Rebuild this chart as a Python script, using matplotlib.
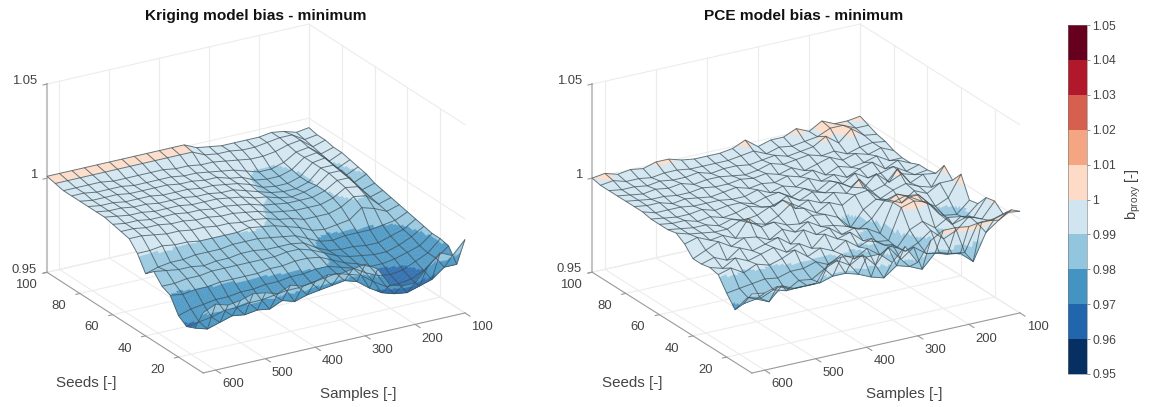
# Kriging / PCE minimum model bias surfaces with a shared stepped colourbar

import numpy as np
import matplotlib
matplotlib.use('Agg')
import matplotlib.pyplot as plt
from matplotlib.cm import ScalarMappable
from matplotlib.colors import BoundaryNorm, ListedColormap
from mpl_toolkits.mplot3d import proj3d

plt.rcParams['font.family'] = ['Liberation Sans', 'DejaVu Sans']
plt.rcParams['mathtext.fontset'] = 'custom'
plt.rcParams['mathtext.rm'] = 'Liberation Sans'

# ── Data ──────────────────────────────────────────────────────────────────────
samples = [625, 600, 575, 550, 525, 500, 475, 450, 425, 400, 375,
           350, 325, 300, 275, 250, 225, 200, 175, 150, 125, 100]
seeds = [100, 95, 90, 85, 80, 75, 70, 65, 60, 55,
         50, 45, 40, 35, 30, 25, 20, 15, 10, 5]

# bias x 1000, one row per seed count, one column per sample count
kriging_bias = [
    [1001, 1001, 1001, 1001, 1001, 1001, 1001, 1001, 1001, 1001, 1001, 1001, 998, 997, 996, 996, 996, 996, 997, 996, 994, 995],
    [1000, 1000, 1000, 1000, 1000, 1000, 1000, 1000, 1000, 1000, 1000, 1000, 997, 996, 996, 995, 995, 996, 997, 997, 993, 994],
    [999, 999, 999, 999, 998, 998, 998, 998, 998, 997, 997, 996, 996, 995, 994, 993, 993, 994, 996, 997, 992, 994],
    [999, 999, 998, 998, 998, 997, 997, 997, 997, 996, 996, 995, 994, 993, 991, 989, 989, 991, 995, 996, 991, 993],
    [999, 998, 998, 998, 997, 997, 997, 997, 996, 996, 995, 995, 993, 992, 989, 988, 988, 990, 995, 996, 990, 993],
    [999, 998, 998, 997, 997, 997, 996, 996, 996, 995, 995, 994, 993, 991, 988, 987, 987, 989, 995, 996, 989, 992],
    [999, 998, 998, 997, 997, 996, 996, 996, 995, 995, 994, 994, 992, 990, 988, 987, 987, 989, 995, 995, 988, 991],
    [999, 998, 997, 997, 996, 996, 996, 995, 995, 995, 994, 993, 991, 990, 988, 987, 988, 990, 995, 995, 987, 990],
    [998, 997, 997, 996, 996, 996, 995, 995, 994, 994, 993, 992, 990, 989, 988, 988, 988, 990, 994, 994, 986, 988],
    [997, 997, 996, 996, 995, 995, 994, 994, 993, 993, 992, 991, 989, 988, 987, 987, 987, 989, 993, 992, 985, 987],
    [996, 996, 995, 994, 994, 993, 993, 992, 992, 991, 991, 990, 988, 987, 985, 985, 985, 987, 991, 990, 984, 986],
    [991, 991, 992, 991, 991, 990, 990, 990, 990, 991, 990, 989, 987, 985, 982, 981, 982, 983, 988, 986, 983, 985],
    [983, 985, 986, 986, 987, 987, 987, 988, 988, 988, 987, 986, 985, 982, 979, 978, 979, 979, 979, 980, 981, 984],
    [987, 986, 985, 985, 984, 985, 985, 986, 986, 985, 985, 985, 984, 980, 977, 976, 976, 975, 975, 977, 979, 983],
    [982, 982, 983, 983, 984, 984, 984, 984, 984, 984, 985, 985, 983, 980, 977, 975, 974, 973, 973, 975, 978, 982],
    [980, 979, 980, 980, 981, 981, 981, 981, 982, 982, 983, 983, 982, 979, 976, 974, 971, 971, 972, 974, 976, 981],
    [972, 974, 975, 976, 976, 977, 977, 978, 978, 979, 979, 980, 980, 978, 976, 972, 969, 968, 969, 972, 975, 981],
    [969, 970, 971, 973, 973, 974, 974, 975, 976, 976, 977, 978, 979, 977, 975, 970, 966, 966, 967, 970, 975, 980],
    [971, 969, 971, 973, 972, 973, 972, 975, 973, 975, 976, 977, 978, 976, 971, 967, 965, 964, 966, 968, 973, 973],
    [982, 985, 983, 984, 986, 985, 983, 986, 984, 985, 987, 986, 987, 988, 984, 974, 972, 972, 979, 985, 982, 989],
]

pce_bias = [
    [1000, 1001, 999, 1000, 999, 1001, 1001, 999, 998, 998, 998, 999, 1002, 997, 999, 999, 1002, 999, 1003, 1000, 1000, 1001],
    [999, 1000, 998, 998, 997, 998, 998, 997, 997, 997, 997, 998, 999, 996, 998, 997, 998, 999, 1002, 1002, 999, 999],
    [999, 998, 998, 997, 998, 997, 997, 998, 996, 997, 997, 996, 997, 998, 996, 997, 998, 1002, 997, 1003, 998, 997],
    [999, 998, 997, 998, 997, 998, 996, 997, 997, 996, 995, 996, 998, 996, 997, 998, 996, 997, 994, 996, 997, 996],
    [999, 998, 997, 997, 996, 996, 997, 996, 996, 997, 996, 997, 995, 997, 994, 996, 998, 995, 997, 995, 997, 994],
    [999, 998, 998, 996, 997, 996, 995, 996, 997, 995, 996, 995, 997, 995, 997, 993, 996, 994, 995, 997, 993, 993],
    [999, 997, 997, 997, 996, 996, 996, 995, 995, 997, 994, 996, 994, 997, 994, 996, 993, 996, 998, 993, 996, 993],
    [998, 997, 996, 996, 997, 995, 996, 996, 994, 996, 997, 993, 996, 993, 997, 994, 998, 994, 995, 997, 993, 995],
    [998, 997, 997, 995, 996, 994, 995, 997, 995, 994, 998, 994, 997, 995, 999, 995, 993, 999, 993, 996, 994, 995],
    [998, 997, 996, 996, 994, 996, 994, 995, 998, 1000, 994, 997, 994, 998, 996, 1002, 994, 996, 1003, 994, 997, 996],
    [999, 997, 996, 995, 995, 998, 995, 993, 996, 1001, 997, 993, 997, 994, 998, 999, 993, 996, 998, 995, 993, 1003],
    [996, 998, 995, 996, 993, 1002, 996, 997, 994, 993, 996, 995, 992, 985, 993, 997, 995, 992, 997, 994, 998, 998],
    [991, 994, 997, 993, 996, 995, 992, 996, 993, 997, 993, 992, 990, 987, 991, 999, 1001, 998, 994, 990, 993, 1004],
    [991, 993, 990, 995, 992, 994, 996, 991, 997, 993, 995, 990, 992, 990, 986, 1001, 1003, 1002, 995, 988, 987, 993],
    [992, 990, 994, 991, 993, 995, 991, 994, 990, 996, 992, 994, 988, 986, 985, 1001, 1003, 1001, 993, 986, 988, 994],
    [991, 993, 989, 992, 990, 992, 995, 990, 993, 990, 994, 989, 992, 987, 984, 992, 995, 990, 994, 993, 991, 1000],
    [984, 985, 986, 987, 986, 988, 988, 990, 987, 991, 987, 991, 986, 990, 985, 988, 993, 987, 990, 996, 993, 1001],
    [978, 983, 981, 984, 982, 986, 985, 989, 992, 988, 992, 985, 993, 985, 990, 985, 984, 982, 981, 995, 995, 997],
    [984, 985, 982, 989, 986, 986, 986, 988, 988, 986, 983, 981, 986, 984, 981, 988, 986, 985, 979, 993, 998, 1002],
    [992, 991, 993, 990, 990, 990, 999, 1001, 1000, 998, 998, 992, 999, 989, 999, 1003, 1003, 1002, 1003, 1003, 1005, 1004],
]

sample_ticks = [100, 200, 300, 400, 500, 600]
seed_ticks = [20, 40, 60, 80, 100]
z_ticks = [0.95, 1.0, 1.05]
z_ticklabels = ['0.95', '1', '1.05']
bar_ticks = [0.95, 0.96, 0.97, 0.98, 0.99, 1.0, 1.01, 1.02, 1.03, 1.04, 1.05]
bar_ticklabels = ['0.95', '0.96', '0.97', '0.98', '0.99', '1', '1.01', '1.02', '1.03', '1.04', '1.05']

# ── Stepped colour scale ──────────────────────────────────────────────────────
cmap = ListedColormap(['#053061', '#2166ac', '#4393c3', '#92c5de', '#d1e5f0',
                       '#fddbc7', '#f4a582', '#d6604d', '#b2182b', '#67001f'])
norm = BoundaryNorm(bar_ticks, cmap.N)

W, H = 1153, 407
XLIM = (625, 100)   # reversed, large sample counts sit at the front
YLIM = (5, 100)
ZLIM = (0.95, 1.05)
TICK_GREY = '#444444'
AXIS_GREY = '#999999'
GRID_GREY = '#ececec'


def refine(a, k):
    # linear subdivision of each mesh cell, only used to shade the colour bands
    a = np.asarray(a, dtype=float)
    rows = np.linspace(0, a.shape[0] - 1, (a.shape[0] - 1) * k + 1)
    cols = np.linspace(0, a.shape[1] - 1, (a.shape[1] - 1) * k + 1)
    by_col = np.array([np.interp(rows, np.arange(a.shape[0]), a[:, j]) for j in range(a.shape[1])]).T
    return np.array([np.interp(cols, np.arange(a.shape[1]), r) for r in by_col])


def draw_box(ax):
    x0, x1 = XLIM
    y0, y1 = YLIM
    z0, z1 = ZLIM
    # walls and floor grid
    for x in sample_ticks:
        ax.plot([x, x], [y1, y1], [z0, z1], color=GRID_GREY, lw=0.8, zorder=1)
        ax.plot([x, x], [y0, y1], [z0, z0], color=GRID_GREY, lw=0.8, zorder=1)
    for y in seed_ticks:
        ax.plot([x1, x1], [y, y], [z0, z1], color=GRID_GREY, lw=0.8, zorder=1)
        ax.plot([x0, x1], [y, y], [z0, z0], color=GRID_GREY, lw=0.8, zorder=1)
    for z in z_ticks:
        ax.plot([x0, x1], [y1, y1], [z, z], color=GRID_GREY, lw=0.8, zorder=1)
        ax.plot([x1, x1], [y0, y1], [z, z], color=GRID_GREY, lw=0.8, zorder=1)
    ax.plot([x1, x1], [y1, y1], [z0, z1], color=GRID_GREY, lw=0.8, zorder=1)
    # axis rulers
    ax.plot([x0, x0], [y1, y1], [z0, z1], color='#c4c4c4', lw=1.5, zorder=2)
    ax.plot([x0, x0], [y0, y1], [z0, z0], color=AXIS_GREY, lw=0.8, zorder=2)
    ax.plot([x0, x1], [y0, y0], [z0, z0], color=AXIS_GREY, lw=0.8, zorder=2)
    # ticks
    for y in seed_ticks:
        ax.plot([x0, x0 + 8], [y, y], [z0, z0], color=AXIS_GREY, lw=0.8, zorder=2)
    for x in sample_ticks:
        ax.plot([x, x], [y0, y0 - 3], [z0, z0], color=AXIS_GREY, lw=0.8, zorder=2)
    for z in z_ticks:
        ax.plot([x0, x0 + 8], [y1, y1], [z, z], color=AXIS_GREY, lw=0.8, zorder=2)


def tick_label(ax, x, y, z, label, ha='center'):
    # place the label at the projected point, so it stays a plain 2D text
    px, py, _ = proj3d.proj_transform(x, y, z, ax.get_proj())
    ax.text2D(px, py, label, transform=ax.transData, ha=ha, va='center',
              fontsize=9.4, color=TICK_GREY)


def draw_panel(bias, center_x, size, box, elev, azim, title, title_x, seeds_x, samples_x):
    left = center_x - 0.095 / 0.185 * size
    bottom = 208.5 - 0.095 / 0.185 * size
    ax = fig.add_axes([left / W, bottom / H, size / W, size / H],
                      projection='3d', computed_zorder=False)
    ax.set_proj_type('ortho')
    ax.view_init(elev=elev, azim=azim)
    ax.set_box_aspect(box)
    ax.set_axis_off()
    ax.patch.set_alpha(0)

    draw_box(ax)

    Z = np.array(bias) / 1000
    X, Y = np.meshgrid(samples, seeds)
    Xf, Yf, Zf = refine(X, 6), refine(Y, 6), refine(Z, 6)

    # colour each small cell from its mean height, mixed a little with white
    Zm = (Zf[:-1, :-1] + Zf[1:, :-1] + Zf[:-1, 1:] + Zf[1:, 1:]) / 4
    colours = np.ones(Zf.shape + (4,))
    colours[:-1, :-1] = cmap(norm(np.clip(Zm, 0.9501, 1.0499)))
    colours[..., :3] = colours[..., :3] * 0.92 + 0.08
    ax.plot_surface(Xf, Yf, Zf, facecolors=colours, rstride=1, cstride=1, shade=False,
                    edgecolor=colours[:-1, :-1].reshape(-1, 4), linewidth=0.25,
                    antialiased=True, zorder=3)
    ax.plot_wireframe(X, Y, Z, rstride=1, cstride=1, color='#3d5058', linewidth=0.7,
                      alpha=0.75, zorder=4)

    ax.set_xlim(*XLIM)
    ax.set_ylim(*YLIM)
    ax.set_zlim(*ZLIM)

    x0, y0, y1, z0 = XLIM[0], YLIM[0], YLIM[1], ZLIM[0]
    for y in seed_ticks:
        tick_label(ax, x0 + 42, y, z0 - 0.0042, str(y))
    for x in sample_ticks:
        tick_label(ax, x, y0 - 10.5, z0 - 0.0016, str(x))
    for z, lab in zip(z_ticks, z_ticklabels):
        tick_label(ax, x0 + 20, y1, z + 0.0027, lab, ha='right')

    fig.text(title_x / W, 1 - 16 / H, title, ha='center', va='center',
             fontsize=11.1, fontweight='bold', color='#111111')
    fig.text(seeds_x / W, 1 - 383 / H, 'Seeds [-]', ha='center', va='center',
             fontsize=10.9, color=TICK_GREY)
    fig.text(samples_x / W, 1 - 394 / H, 'Samples [-]', ha='center', va='center',
             fontsize=10.9, color=TICK_GREY)
    return ax


# ── Figure ────────────────────────────────────────────────────────────────────
fig = plt.figure(figsize=(W / 100, H / 100), dpi=100)

draw_panel(kriging_bias, 256, 463, (305, 305, 204), 22.6, -120.8,
           'Kriging model bias - minimum', 256, 86, 358)
draw_panel(pce_bias, 806, 471.5, (312, 312, 203), 22.1, -120.8,
           'PCE model bias - minimum', 804, 632, 904)

# ── Colourbar ─────────────────────────────────────────────────────────────────
cax = fig.add_axes([1068 / W, 1 - 374 / H, 19 / W, 349 / H])
cbar = fig.colorbar(ScalarMappable(norm=norm, cmap=cmap), cax=cax, ticks=bar_ticks, spacing='proportional')
cbar.ax.set_yticklabels(bar_ticklabels)
cbar.ax.tick_params(length=2, width=0.5, color='#666666', labelsize=8.8, labelcolor=TICK_GREY, pad=2)
cbar.outline.set_linewidth(0.4)
cbar.outline.set_edgecolor('#777777')
fig.text(1133 / W, 1 - 194 / H, r'b$_{\mathregular{proxy}}$ [-]', rotation=90, ha='center', va='center',
         fontsize=10.5, color=TICK_GREY)

fig.savefig('out.png', dpi=100)
